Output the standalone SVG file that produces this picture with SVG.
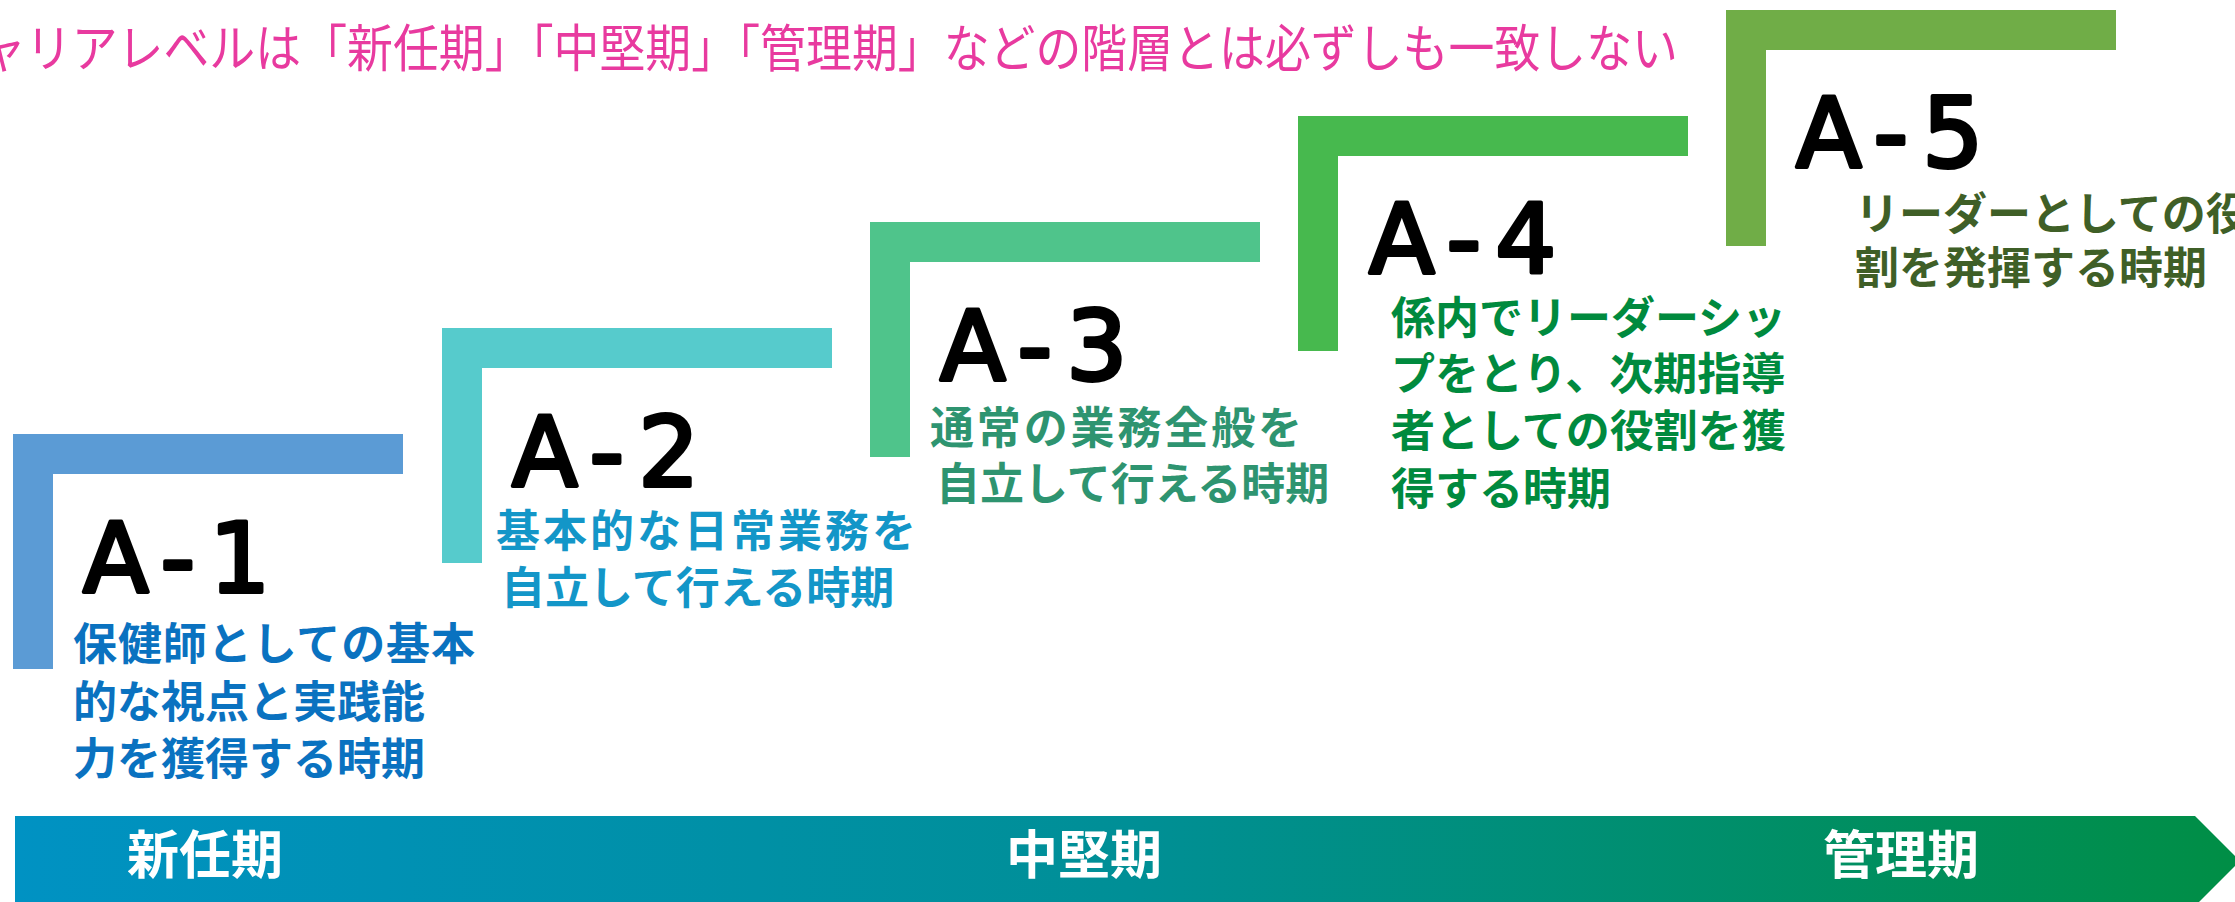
<svg xmlns="http://www.w3.org/2000/svg" width="2235" height="902" viewBox="0 0 2235 902">
<defs>
<linearGradient id="band" x1="15" y1="0" x2="2240" y2="0" gradientUnits="userSpaceOnUse">
<stop offset="0" stop-color="#0092c3"/>
<stop offset="0.5" stop-color="#008f96"/>
<stop offset="1" stop-color="#008e45"/>
</linearGradient>
<style>
.lbl{font-family:"DejaVu Sans",sans-serif;font-weight:400;font-size:96px;fill:#000;stroke:#000;stroke-width:4;stroke-linejoin:round;letter-spacing:14px}
.desc{font-family:"Noto Sans CJK JP",sans-serif;font-weight:700;font-size:44px}
.note{font-family:"Noto Sans CJK JP",sans-serif;font-weight:400;font-size:51px;fill:#e83a9f}
.phase{font-family:"Noto Sans CJK JP",sans-serif;font-weight:700;font-size:52px;fill:#fff;text-anchor:middle}
</style>
</defs>
<rect width="2235" height="902" fill="#fff"/>
<text class="note" x="-66" y="67" textLength="1744" lengthAdjust="spacingAndGlyphs">キャリアレベルは「新任期」「中堅期」「管理期」などの階層とは必ずしも一致しない</text>
<g id="band-arrow">
<polygon points="15,816 2195,816 2240,861 2195,906 15,906" fill="url(#band)"/>
<text class="phase" x="205" y="874">新任期</text>
<text class="phase" x="1084" y="874">中堅期</text>
<text class="phase" x="1901" y="874">管理期</text>
</g>
<g id="A1">
<path d="M13,434 h390 v40 h-350 v195 h-40 z" fill="#5b9bd5"/>
<text class="lbl" x="83" y="592">A-1</text>
<g class="desc" fill="#0a72c0">
<text x="73" y="660" textLength="402">保健師としての基本</text>
<text x="73" y="718">的な視点と実践能</text>
<text x="73" y="775">力を獲得する時期</text>
</g>
</g>
<g id="A2">
<path d="M442,328 h390 v40 h-350 v195 h-40 z" fill="#56cbcc"/>
<text class="lbl" x="512" y="486">A-2</text>
<g class="desc" fill="#1396c8">
<text x="496" y="547" textLength="420">基本的な日常業務を</text>
<text x="501" y="604">自立して行える時期</text>
</g>
</g>
<g id="A3">
<path d="M870,222 h390 v40 h-350 v195 h-40 z" fill="#4fc48b"/>
<text class="lbl" x="940" y="380">A-3</text>
<g class="desc" fill="#2e9470">
<text x="930" y="444" textLength="372">通常の業務全般を</text>
<text x="936" y="500">自立して行える時期</text>
</g>
</g>
<g id="A4">
<path d="M1298,116 h390 v40 h-350 v195 h-40 z" fill="#47b94e"/>
<text class="lbl" x="1369" y="273">A-4</text>
<g class="desc" fill="#008a3e">
<text x="1391" y="334">係内でリーダーシッ</text>
<text x="1391" y="390">プをとり、次期指導</text>
<text x="1391" y="447">者としての役割を獲</text>
<text x="1391" y="505">得する時期</text>
</g>
</g>
<g id="A5">
<path d="M1726,10 h390 v40 h-350 v196 h-40 z" fill="#70ad47"/>
<text class="lbl" x="1796" y="167">A-5</text>
<g class="desc" fill="#3f5f27">
<text x="1855" y="230">リーダーとしての役</text>
<text x="1855" y="284">割を発揮する時期</text>
</g>
</g>
</svg>
